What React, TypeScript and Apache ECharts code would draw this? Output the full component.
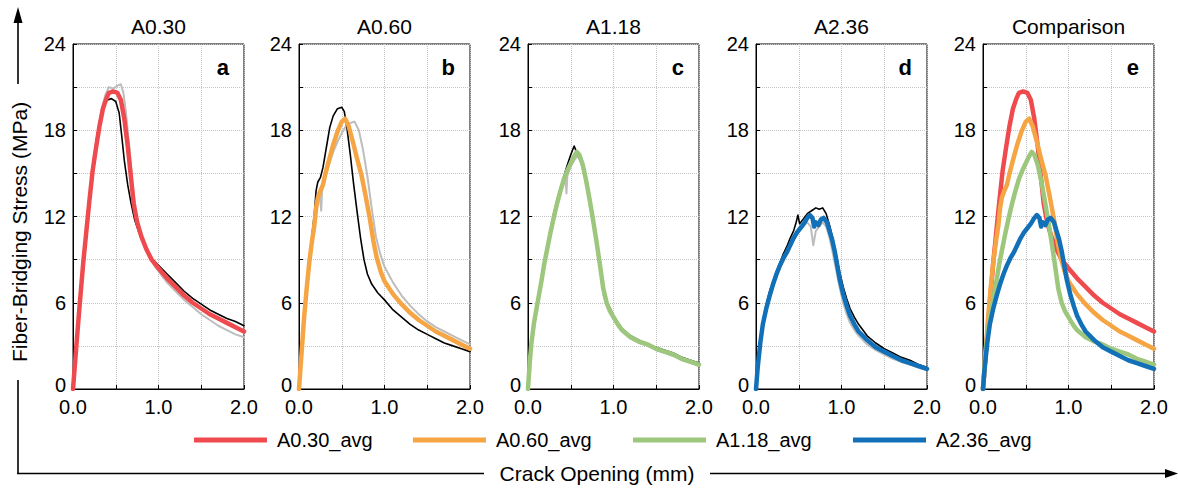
import React, { useEffect, useRef } from 'react';
import * as echarts from 'echarts';

const FONT = '"Liberation Sans", Arial, sans-serif';

const panelTitles = ['A0.30', 'A0.60', 'A1.18', 'A2.36', 'Comparison'];
const panelLetters = ['a', 'b', 'c', 'd', 'e'];
const avgNames = ['A0.30_avg', 'A0.60_avg', 'A1.18_avg', 'A2.36_avg'];
const avgColors = ['#EF4B4F', '#F6A544', '#9DC77C', '#1170B8'];
const specimenColors = ['#BDBDBD', '#000000'];

// Crack opening (mm), stress (MPa)
const a030Avg = [[0,0],[0.02,1.5],[0.05,3.8],[0.08,6.0],[0.12,8.8],[0.15,10.6],[0.19,13.0],[0.23,15.2],[0.27,16.8],[0.31,18.3],[0.35,19.5],[0.39,20.2],[0.42,20.6],[0.47,20.7],[0.52,20.6],[0.56,20.1],[0.60,18.8],[0.64,16.9],[0.68,14.6],[0.71,12.9],[0.75,11.6],[0.80,10.6],[0.86,9.7],[0.92,9.0],[1.0,8.4],[1.1,7.7],[1.2,7.1],[1.3,6.5],[1.4,6.0],[1.5,5.6],[1.6,5.2],[1.7,4.9],[1.8,4.6],[1.9,4.3],[2.0,4.0]];
const a030S1 = [[0,0],[0.03,2.5],[0.08,6.5],[0.13,9.8],[0.18,12.8],[0.23,15.5],[0.28,17.6],[0.32,18.8],[0.36,19.7],[0.40,20.1],[0.45,20.2],[0.50,20.0],[0.54,19.2],[0.57,17.6],[0.60,15.9],[0.64,14.2],[0.68,12.9],[0.72,11.8],[0.77,10.9],[0.84,9.9],[0.92,9.1],[1.0,8.6],[1.1,8.0],[1.2,7.4],[1.3,6.8],[1.4,6.3],[1.5,5.9],[1.6,5.5],[1.7,5.2],[1.8,4.9],[1.9,4.7],[2.0,4.4]];
const a030S2 = [[0,0],[0.03,2.3],[0.08,6.3],[0.13,9.6],[0.18,12.7],[0.23,15.4],[0.28,17.5],[0.33,19.3],[0.38,20.5],[0.42,21.0],[0.47,20.9],[0.52,21.1],[0.56,21.2],[0.59,20.6],[0.62,19.2],[0.66,16.8],[0.70,14.0],[0.74,12.0],[0.80,10.6],[0.88,9.4],[0.95,8.6],[1.0,8.2],[1.1,7.4],[1.2,6.8],[1.3,6.2],[1.4,5.7],[1.5,5.2],[1.6,4.8],[1.7,4.4],[1.8,4.1],[1.9,3.8],[2.0,3.6]];

const a060Avg = [[0,0],[0.03,2.5],[0.06,5.0],[0.09,7.0],[0.12,8.8],[0.15,10.2],[0.18,11.4],[0.20,12.6],[0.22,13.3],[0.25,13.8],[0.28,14.2],[0.31,15.0],[0.35,15.9],[0.40,17.0],[0.45,17.9],[0.50,18.6],[0.54,18.8],[0.58,18.3],[0.63,17.2],[0.68,16.0],[0.73,14.9],[0.78,13.4],[0.83,11.8],[0.87,10.3],[0.91,9.1],[0.96,8.1],[1.0,7.5],[1.1,6.6],[1.2,5.9],[1.3,5.3],[1.4,4.8],[1.5,4.4],[1.6,4.0],[1.7,3.7],[1.8,3.4],[1.9,3.1],[2.0,2.8]];
const a060S1 = [[0,0],[0.03,2.6],[0.06,5.2],[0.09,7.2],[0.12,9.0],[0.15,10.6],[0.18,12.2],[0.20,13.8],[0.22,14.4],[0.25,14.7],[0.28,15.4],[0.32,16.8],[0.36,18.2],[0.40,19.0],[0.45,19.5],[0.50,19.6],[0.53,19.3],[0.56,18.2],[0.60,16.3],[0.64,14.2],[0.68,12.3],[0.72,10.5],[0.76,9.0],[0.80,8.0],[0.85,7.3],[0.92,6.7],[1.0,6.2],[1.1,5.5],[1.2,5.0],[1.3,4.5],[1.4,4.1],[1.5,3.8],[1.6,3.5],[1.7,3.2],[1.8,3.0],[1.9,2.8],[2.0,2.6]];
const a060S2 = [[0,0],[0.03,2.4],[0.06,4.8],[0.09,6.8],[0.12,8.6],[0.15,10.1],[0.18,11.5],[0.21,12.8],[0.24,13.6],[0.26,12.4],[0.27,13.8],[0.30,14.6],[0.35,15.6],[0.40,16.5],[0.45,17.2],[0.50,17.8],[0.55,18.3],[0.60,18.5],[0.65,18.6],[0.70,18.0],[0.75,16.6],[0.80,14.8],[0.85,12.6],[0.90,10.6],[0.95,9.4],[1.0,8.5],[1.1,7.4],[1.2,6.5],[1.3,5.8],[1.4,5.2],[1.5,4.7],[1.6,4.3],[1.7,4.0],[1.8,3.7],[1.9,3.4],[2.0,3.1]];

const a118Avg = [[0,0],[0.02,1.8],[0.04,3.2],[0.07,4.6],[0.10,5.6],[0.13,6.6],[0.16,7.6],[0.19,8.7],[0.22,9.6],[0.26,10.8],[0.30,11.9],[0.34,12.9],[0.38,13.8],[0.42,14.6],[0.46,15.2],[0.50,15.7],[0.54,16.2],[0.57,16.5],[0.60,16.3],[0.64,15.6],[0.68,14.5],[0.72,13.2],[0.76,11.8],[0.80,10.3],[0.84,8.7],[0.88,7.0],[0.92,6.0],[0.96,5.4],[1.0,5.0],[1.05,4.5],[1.1,4.1],[1.2,3.6],[1.3,3.3],[1.4,3.1],[1.5,2.8],[1.6,2.6],[1.7,2.4],[1.8,2.1],[1.9,1.9],[2.0,1.7]];
const a118S1 = [[0,0],[0.02,2.2],[0.05,3.8],[0.10,5.8],[0.15,7.4],[0.20,9.1],[0.25,10.8],[0.30,12.2],[0.35,13.4],[0.40,14.4],[0.45,15.4],[0.50,16.3],[0.54,16.9],[0.56,16.6],[0.60,16.1],[0.65,15.2],[0.70,13.8],[0.75,12.1],[0.80,10.5],[0.85,8.6],[0.89,6.8],[0.93,6.0],[0.97,5.5],[1.0,5.1],[1.1,4.2],[1.2,3.7],[1.3,3.4],[1.4,3.1],[1.5,2.9],[1.6,2.7],[1.7,2.5],[1.8,2.2],[1.9,2.0],[2.0,1.8]];
const a118S2 = [[0,0],[0.02,1.6],[0.05,3.3],[0.10,5.4],[0.15,7.2],[0.20,8.9],[0.25,10.5],[0.30,11.8],[0.35,13.0],[0.40,14.0],[0.44,14.6],[0.45,13.6],[0.46,14.8],[0.50,15.5],[0.55,16.0],[0.58,16.2],[0.62,15.8],[0.66,14.8],[0.70,13.7],[0.75,12.0],[0.80,10.2],[0.85,8.4],[0.88,6.6],[0.92,5.8],[0.96,5.3],[1.0,4.9],[1.1,4.0],[1.2,3.5],[1.3,3.2],[1.4,3.0],[1.5,2.7],[1.6,2.5],[1.7,2.3],[1.8,2.0],[1.9,1.8],[2.0,1.6]];

const a236Avg = [[0,0],[0.02,1.5],[0.05,3.2],[0.08,4.5],[0.12,5.6],[0.16,6.5],[0.20,7.3],[0.24,8.0],[0.28,8.6],[0.32,9.1],[0.36,9.5],[0.40,10.0],[0.44,10.5],[0.48,10.9],[0.52,11.2],[0.56,11.5],[0.60,11.9],[0.63,12.1],[0.66,11.9],[0.68,11.3],[0.70,11.6],[0.73,11.4],[0.76,11.8],[0.79,11.9],[0.83,11.6],[0.86,11.0],[0.89,10.4],[0.92,9.6],[0.95,8.6],[0.98,7.6],[1.02,6.6],[1.06,5.8],[1.10,5.1],[1.15,4.5],[1.2,4.0],[1.3,3.4],[1.4,2.9],[1.5,2.6],[1.6,2.3],[1.7,2.0],[1.8,1.8],[1.9,1.6],[2.0,1.4]];
const a236S1 = [[0,0],[0.02,1.8],[0.05,3.5],[0.08,4.8],[0.12,5.9],[0.16,6.8],[0.20,7.5],[0.24,8.2],[0.28,8.8],[0.32,9.4],[0.36,9.9],[0.40,10.5],[0.44,11.0],[0.47,11.6],[0.49,12.1],[0.51,11.5],[0.55,11.8],[0.60,12.2],[0.65,12.4],[0.70,12.6],[0.74,12.5],[0.78,12.6],[0.82,12.2],[0.86,11.4],[0.90,10.4],[0.94,9.3],[0.98,8.1],[1.02,7.1],[1.06,6.3],[1.10,5.6],[1.15,5.0],[1.2,4.5],[1.3,3.7],[1.4,3.2],[1.5,2.8],[1.6,2.5],[1.7,2.2],[1.8,2.0],[1.9,1.7],[2.0,1.5]];
const a236S2 = [[0,0],[0.02,1.4],[0.05,3.0],[0.08,4.3],[0.12,5.4],[0.16,6.3],[0.20,7.1],[0.24,7.8],[0.28,8.4],[0.32,8.9],[0.36,9.4],[0.40,9.9],[0.44,10.4],[0.48,10.8],[0.52,11.1],[0.56,11.4],[0.60,11.6],[0.64,11.3],[0.67,10.0],[0.70,11.0],[0.74,11.3],[0.78,11.6],[0.82,11.3],[0.86,10.5],[0.90,9.4],[0.94,8.2],[0.98,7.0],[1.02,6.0],[1.06,5.2],[1.10,4.6],[1.15,4.1],[1.2,3.7],[1.3,3.1],[1.4,2.7],[1.5,2.4],[1.6,2.1],[1.7,1.9],[1.8,1.7],[1.9,1.5],[2.0,1.3]];

const avgData = [a030Avg, a060Avg, a118Avg, a236Avg];
const s1Data = [a030S1, a060S1, a118S1, a236S1];
const s2Data = [a030S2, a060S2, a118S2, a236S2];

const xTickLabels = ['0.0', '1.0', '2.0'];
const yTickLabels = ['0', '6', '12', '18', '24'];

const GRID_LEFTS = [73, 299, 528, 756, 983];
const GRID_W = 171;
const GRID_TOP = 44;
const GRID_H = 345;
const LEGEND_LEFTS = [194, 413, 633, 853];

function buildOption() {
  const grids = GRID_LEFTS.map((l) => ({
    left: l, top: GRID_TOP, width: GRID_W, height: GRID_H,
    show: true, borderColor: '#000', borderWidth: 1, backgroundColor: 'transparent',
  }));
  const xAxes = GRID_LEFTS.map((_, i) => ({
    type: 'value', gridIndex: i, min: 0, max: 2, interval: 0.5,
    axisLine: { show: true, onZero: false, lineStyle: { color: '#000', width: 1 } },
    axisTick: { show: true, inside: true, length: 4, lineStyle: { color: '#000' } },
    axisLabel: {
      show: true, showMinLabel: true, showMaxLabel: true, margin: 8,
      fontSize: 20, color: '#000', fontFamily: FONT,
      formatter: (v: number) => {
        const s = v.toFixed(1);
        return xTickLabels.includes(s) ? s : '';
      },
    },
    splitLine: { show: true, lineStyle: { color: '#C4C4C4', type: 'dotted', width: 1 } },
  }));
  const yAxes = GRID_LEFTS.map((_, i) => ({
    type: 'value', gridIndex: i, min: 0, max: 24, interval: 3,
    axisLine: { show: true, onZero: false, lineStyle: { color: '#000', width: 1 } },
    axisTick: { show: true, inside: true, length: 4, lineStyle: { color: '#000' } },
    axisLabel: {
      show: true, showMinLabel: true, showMaxLabel: true, margin: 7,
      fontSize: 20, color: '#000', fontFamily: FONT,
      formatter: (v: number) => {
        const s = String(Math.round(v));
        if (s === '0') return '{z|0}';
        return yTickLabels.includes(s) ? s : '';
      },
      rich: {
        z: { fontSize: 20, color: '#000', fontFamily: FONT, padding: [0, 0, 9, 0] },
      },
    },
    splitLine: { show: true, lineStyle: { color: '#C4C4C4', type: 'dotted', width: 1 } },
  }));

  const series: any[] = [];
  const lineSeries = (name: string, data: number[][], idx: number, color: string, width: number, z: number) => ({
    type: 'line', name, data, xAxisIndex: idx, yAxisIndex: idx,
    showSymbol: false, symbol: 'none', smooth: false, z,
    lineStyle: { color, width, join: 'round', cap: 'round' },
    itemStyle: { color },
    emphasis: { disabled: true },
  });
  for (let i = 0; i < 4; i++) {
    const base = avgNames[i].replace('_avg', '');
    series.push(lineSeries(base + '_2', s2Data[i], i, specimenColors[0], 2, 2));
    series.push(lineSeries(base + '_1', s1Data[i], i, specimenColors[1], 1.6, 3));
    series.push(lineSeries(avgNames[i], avgData[i], i, avgColors[i], 4.5, 4));
  }
  for (let i = 0; i < 4; i++) {
    series.push(lineSeries(avgNames[i], avgData[i], 4, avgColors[i], 4.5, 4));
  }

  const legends = avgNames.map((n, i) => ({
    data: [n], left: LEGEND_LEFTS[i], top: 430, orient: 'horizontal',
    icon: 'rect', itemWidth: 73, itemHeight: 5, selectedMode: false,
    padding: 0,
    textStyle: { fontSize: 20, color: '#000', fontFamily: FONT, padding: [0, 0, 0, 5] },
  }));

  const graphics: any[] = [];
  GRID_LEFTS.forEach((l, i) => {
    graphics.push({
      type: 'text', x: l + GRID_W / 2, y: 26, silent: true,
      style: { text: panelTitles[i], fontSize: 21, fontFamily: FONT, fill: '#000',
        textAlign: 'center', textVerticalAlign: 'middle', align: 'center', verticalAlign: 'middle' },
    });
    graphics.push({
      type: 'text', x: l + GRID_W - 15, y: 67, silent: true,
      style: { text: panelLetters[i], fontSize: 22, fontWeight: 'bold', fontFamily: FONT, fill: '#000',
        textAlign: 'right', textVerticalAlign: 'middle', align: 'right', verticalAlign: 'middle' },
    });
  });
  // vertical axis arrow
  graphics.push({ type: 'line', silent: true, shape: { x1: 18, y1: 22, x2: 18, y2: 84 }, style: { stroke: '#000', lineWidth: 1.6 } });
  graphics.push({ type: 'line', silent: true, shape: { x1: 18, y1: 380, x2: 18, y2: 474 }, style: { stroke: '#000', lineWidth: 1.6 } });
  graphics.push({ type: 'polygon', silent: true, shape: { points: [[18, 7], [13.5, 23], [22.5, 23]] }, style: { fill: '#000' } });
  graphics.push({
    type: 'text', x: 19, y: 232, rotation: Math.PI / 2, silent: true,
    style: { text: 'Fiber-Bridging Stress (MPa)', fontSize: 21, fontFamily: FONT, fill: '#000',
      textAlign: 'center', textVerticalAlign: 'middle', align: 'center', verticalAlign: 'middle' },
  });
  // horizontal axis arrow
  graphics.push({ type: 'line', silent: true, shape: { x1: 17, y1: 473.5, x2: 484, y2: 473.5 }, style: { stroke: '#000', lineWidth: 1.6 } });
  graphics.push({ type: 'line', silent: true, shape: { x1: 710, y1: 473.5, x2: 1167, y2: 473.5 }, style: { stroke: '#000', lineWidth: 1.6 } });
  graphics.push({ type: 'polygon', silent: true, shape: { points: [[1178, 473.5], [1165, 469], [1165, 478]] }, style: { fill: '#000' } });
  graphics.push({
    type: 'text', x: 597, y: 473, silent: true,
    style: { text: 'Crack Opening (mm)', fontSize: 21, fontFamily: FONT, fill: '#000',
      textAlign: 'center', textVerticalAlign: 'middle', align: 'center', verticalAlign: 'middle' },
  });

  return {
    animation: false,
    backgroundColor: '#fff',
    textStyle: { fontFamily: FONT },
    grid: grids,
    xAxis: xAxes,
    yAxis: yAxes,
    legend: legends,
    series,
    graphic: graphics,
  };
}

export default function App() {
  const ref = useRef<HTMLDivElement>(null);
  useEffect(() => {
    if (!ref.current) return;
    const chart = echarts.init(ref.current, undefined, { renderer: 'svg' });
    chart.setOption(buildOption() as any);
    return () => chart.dispose();
  }, []);
  return (
    <div
      ref={ref}
      style={{ position: 'fixed', left: 0, top: 0, width: 1178, height: 490, background: '#fff' }}
    />
  );
}
